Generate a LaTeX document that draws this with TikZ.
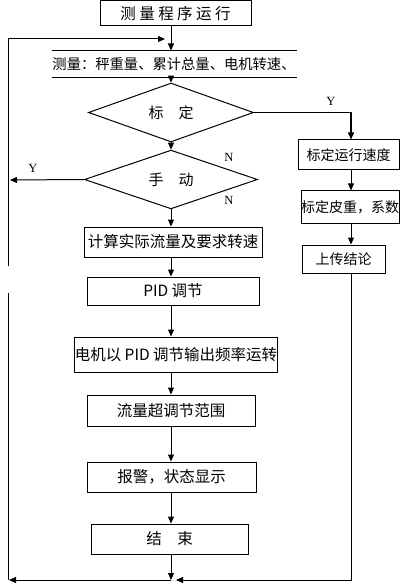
\documentclass[tikz,border=0pt]{standalone}
\usepackage{fontspec}
\setmainfont{Liberation Serif}
\newfontfamily\cjk{Noto Sans CJK SC}
\usetikzlibrary{shapes.geometric,arrows.meta}
\begin{document}
\begin{tikzpicture}[x=1pt,y=-1pt,line width=1pt,
  box/.style={draw,rectangle,inner sep=0pt,font=\cjk\fontsize{15.5}{17}\selectfont},
  rbox/.style={draw,rectangle,inner sep=0pt,font=\cjk\fontsize{14}{16}\selectfont},
  dia/.style={draw,diamond,inner sep=0pt,font=\cjk\fontsize{15}{17}\selectfont},
  arr/.style={-{Triangle[length=7pt,width=6pt]}},
  lbl/.style={font=\fontsize{12.5}{13}\selectfont,inner sep=0pt}]
\useasboundingbox (0,0) rectangle (400,585);
\coordinate (ax) at (171,0);
\coordinate (rx) at (351,0);
% main column
\node[box,minimum width=151,minimum height=25] (b1) at (175.5,13.5) {测 量 程 序 运 行};
\node[inner sep=0pt,minimum width=244,minimum height=26,font=\cjk\fontsize{14.3}{16}\selectfont] (m) at (174,64) {测量：秤重量、累计总量、电机转速、};
\draw (m.north west) -- (m.north east);
\draw (m.south west) -- (m.south east);
\node[dia,minimum width=165,minimum height=45] (d1) at (171,112.5) {标\quad 定};
\node[dia,minimum width=173,minimum height=41] (d2) at (171,179.5) {手\quad 动};
\node[box,minimum width=178,minimum height=30] (c) at (173,242) {计算实际流量及要求转速};
\node[box,minimum width=172,minimum height=28] (pid) at (173,291) {PID 调节};
\node[box,minimum width=200,minimum height=35] (mot) at (176,354.5) {电机以 PID 调节输出频率运转};
\node[box,minimum width=168,minimum height=31] (flow) at (171,410.5) {流量超调节范围};
\node[box,minimum width=169,minimum height=30] (alarm) at (171.5,477) {报警，状态显示};
\node[box,minimum width=157,minimum height=30] (end) at (169.5,539) {结\quad 束};
% right column
\node[rbox,minimum width=101,minimum height=30] (r1) at (348.5,155) {标定运行速度};
\node[rbox,minimum width=98,minimum height=32] (r2) at (350,207) {标定皮重，系数};
\node[rbox,minimum width=83,minimum height=28] (r3) at (343.5,259) {上传结论};
% coordinates for loop lines
\coordinate (L0) at (8,266);
\coordinate (T) at (165,39);
\coordinate (Ly) at (10,180);
\coordinate (L2) at (8,293);
\coordinate (LB) at (8,580);
\coordinate (BL) at (9,580);
\coordinate (Bm) at (171,580);
\coordinate (BR) at (176,580);
% connectors
\draw[arr] (b1.south -| ax) -- (m.north -| ax);
\draw[arr] (L0) |- (T);
\draw[arr] (m.south -| ax) -- (d1.north);
\draw[arr,line width=1.6pt] (d1.east) -| (r1.north -| rx);
\draw[arr] (d1.south) -- (d2.north);
\draw[arr] (d2.west) -- (Ly);
\draw[arr] (d2.south -| ax) -- (c.north -| ax);
\draw[arr] (c.south -| ax) -- (pid.north -| ax);
\draw[arr] (pid.south -| ax) -- (mot.north -| ax);
\draw[arr] (mot.south -| ax) -- (flow.north -| ax);
\draw[arr] (flow.south -| ax) -- (alarm.north -| ax);
\draw[arr] (alarm.south -| ax) -- (end.north -| ax);
\draw[arr] (end.south -| ax) -- (Bm);
\draw[arr] (r1.south -| rx) -- (r2.north -| rx);
\draw[arr] (r2.south -| rx) -- (r3.north -| rx);
\draw[arr] (r3.south -| rx) |- (BR);
\draw (L2) -- (LB);
\draw[arr] (Bm) -- (BL);
% labels
\node[lbl] (ly1) at (331,101) {Y};
\node[lbl] (ly2) at (33,168) {Y};
\node[lbl] (ln1) at (229,157) {N};
\node[lbl] (ln2) at (229,200) {N};
\end{tikzpicture}
\end{document}
